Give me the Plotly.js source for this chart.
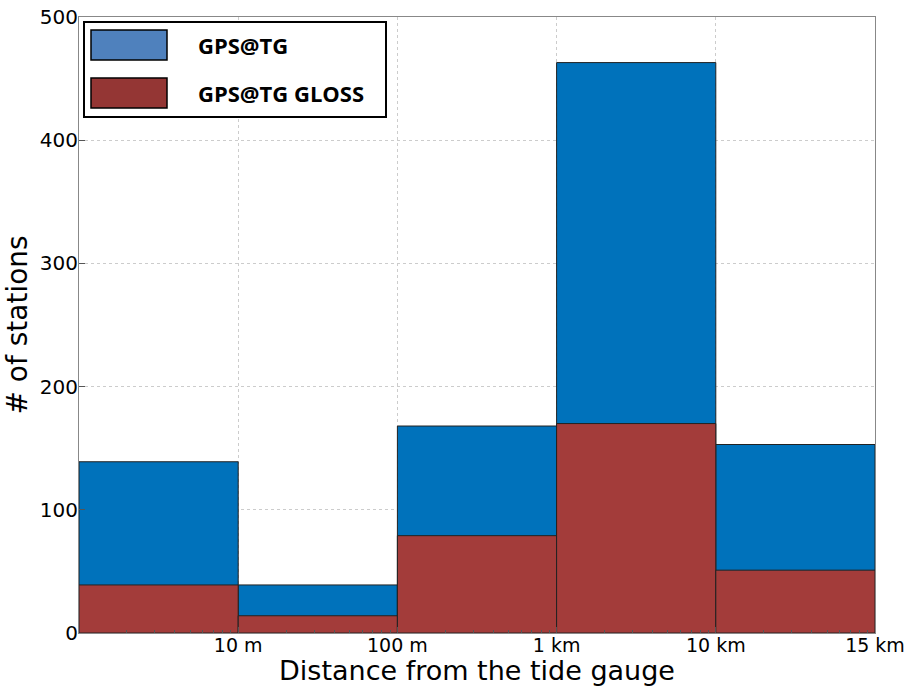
<!DOCTYPE html>
<html>
<head>
<meta charset="utf-8">
<script src="https://cdn.plot.ly/plotly-3.0.1.min.js"></script>
<style>html,body{margin:0;padding:0;background:#fff;}</style>
</head>
<body>
<div id="chart" style="width:911px;height:686px;"></div>
<script>
// Data
const binLabels = ["10 m", "100 m", "1 km", "10 km", "15 km"];
const gpsTG = [139, 39, 168, 463, 153];
const gpsTGGloss = [39, 14, 79, 170, 51];
const seriesNames = ["GPS@TG", "GPS@TG GLOSS"];

const centers = binLabels.map((_, i) => i + 0.5);
const edges = binLabels.map((_, i) => i + 1);

// log-like minor ticks inside each bin
const minorVals = [];
for (let i = 0; i < binLabels.length; i++) {
  for (let k = 2; k <= 9; k++) minorVals.push(i + Math.log10(k));
}

const blue = '#0072bb';
const red = '#a33c3a';
const lineCol = '#222222';

const traces = [
  {type: 'bar', x: centers, y: gpsTG, width: 1, name: seriesNames[0],
   marker: {color: blue, line: {color: lineCol, width: 1}}, showlegend: false},
  {type: 'bar', x: centers, y: gpsTGGloss, width: 1, name: seriesNames[1],
   marker: {color: red, line: {color: lineCol, width: 1}}, showlegend: false}
];

// Legend drawn in paper coordinates (plot area 79..875 x, 17..633 y)
const L = 79, R = 875, T = 17, B = 633;
const px = v => (v - L) / (R - L);
const py = v => (B - v) / (B - T);

const shapes = [
  {type: 'rect', xref: 'paper', yref: 'paper', x0: px(84), x1: px(386), y0: py(117), y1: py(22),
   line: {color: '#000', width: 2}, fillcolor: '#fff', layer: 'above'},
  {type: 'rect', xref: 'paper', yref: 'paper', x0: px(91), x1: px(167), y0: py(60), y1: py(30),
   line: {color: '#000', width: 1.5}, fillcolor: '#4f81bd', layer: 'above'},
  {type: 'rect', xref: 'paper', yref: 'paper', x0: px(91), x1: px(167), y0: py(108), y1: py(78),
   line: {color: '#000', width: 1.5}, fillcolor: '#943634', layer: 'above'}
];
const legendFont = {family: 'Open Sans, DejaVu Sans, sans-serif', size: 22, color: '#000'};
const annotations = [
  {xref: 'paper', yref: 'paper', x: px(196), y: py(45), xanchor: 'left', yanchor: 'middle',
   text: '<b>' + seriesNames[0] + '</b>', showarrow: false, font: legendFont},
  {xref: 'paper', yref: 'paper', x: px(196), y: py(93), xanchor: 'left', yanchor: 'middle',
   text: '<b>' + seriesNames[1] + '</b>', showarrow: false, font: legendFont}
];

const layout = {
  width: 911, height: 686,
  margin: {l: 79, r: 36, t: 17, b: 53},
  paper_bgcolor: '#fff', plot_bgcolor: '#fff',
  barmode: 'overlay',
  showlegend: false,
  font: {family: 'DejaVu Sans, sans-serif', color: '#000', size: 20},
  xaxis: {
    range: [0, binLabels.length],
    tickmode: 'array', tickvals: edges, ticktext: binLabels,
    ticks: 'inside', ticklen: 6, tickcolor: '#555',
    showgrid: true, gridcolor: '#cccccc', griddash: 'dot', gridwidth: 1,
    showline: true, linecolor: '#888', linewidth: 1, mirror: true,
    zeroline: false,
    minor: {tickmode: 'array', tickvals: minorVals, ticks: 'inside', ticklen: 3, tickcolor: '#555', showgrid: false},
    tickfont: {size: 19},
    ticklabelstandoff: -5,
    title: {text: 'Distance from the tide gauge', font: {size: 27}, standoff: 3}
  },
  yaxis: {
    range: [0, 500],
    tickmode: 'array', tickvals: [0, 100, 200, 300, 400, 500],
    ticks: 'inside', ticklen: 6, tickcolor: '#555',
    showgrid: true, gridcolor: '#cccccc', griddash: 'dot', gridwidth: 1,
    showline: true, linecolor: '#888', linewidth: 1, mirror: true,
    zeroline: false,
    tickfont: {size: 20},
    ticklabelstandoff: -4,
    title: {text: '# of stations', font: {size: 28}, standoff: 4}
  },
  shapes: shapes,
  annotations: annotations
};

Plotly.newPlot('chart', traces, layout, {displayModeBar: false, staticPlot: true});
</script>
</body>
</html>
